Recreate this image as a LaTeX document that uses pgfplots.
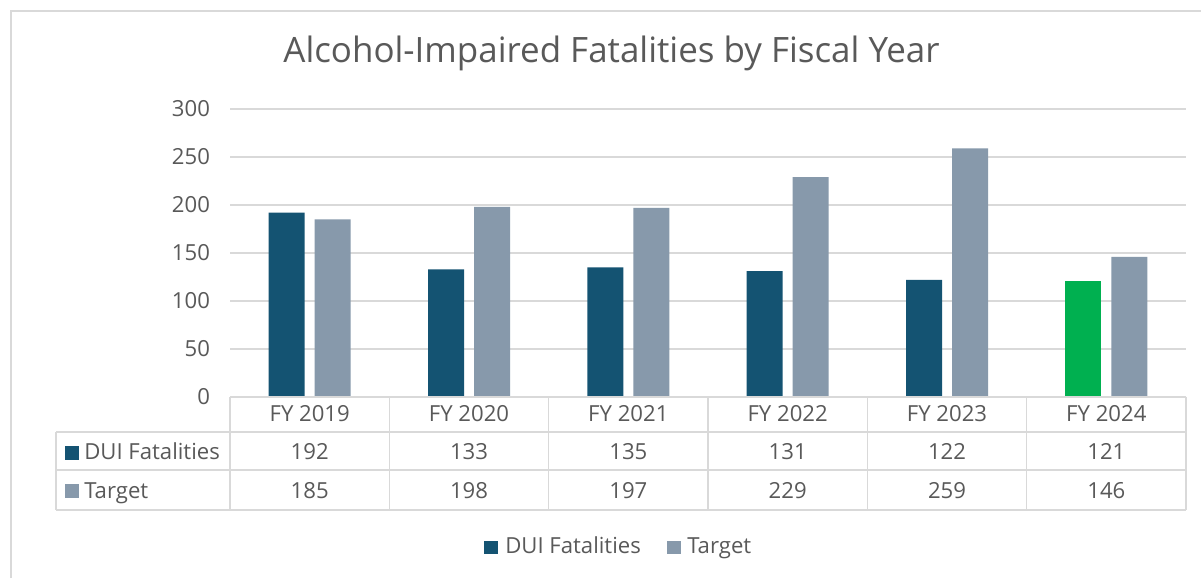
\documentclass[border=0pt]{standalone}
\usepackage{pgfplots}
\pgfplotsset{compat=1.18}
\usepackage{fontspec}
\setmainfont{Open Sans}
\definecolor{duic}{HTML}{145372}
\definecolor{tgtc}{HTML}{8799AB}
\definecolor{grn}{HTML}{00B050}
\definecolor{gridc}{HTML}{D9D9D9}
\definecolor{txt}{HTML}{595959}
\newcommand{\tf}{\fontsize{16.6}{19}\selectfont}
\begin{document}
\begin{tikzpicture}
\path[use as bounding box, fill=white] (0,0) rectangle (900.75pt,433.5pt);
\begin{axis}[at={(172.5pt,135.75pt)}, anchor=south west, scale only axis,
  width=717pt, height=216pt,
  xmin=-0.5, xmax=5.5, ymin=0, ymax=300,
  ytick={0,50,...,300}, xtick=\empty,
  axis line style={draw=none}, major tick length=0pt,
  ymajorgrids, major grid style={draw=gridc, line width=1.1pt},
  yticklabel style={font=\tf, text=txt, xshift=-11.5pt},
  /pgf/number format/assume math mode=true]
\addplot[ybar, bar width=27pt, bar shift=-17.25pt, fill=duic, draw=none]
  coordinates {(0,192) (1,133) (2,135) (3,131) (4,122)};
\addplot[ybar, bar width=27pt, bar shift=17.25pt, fill=tgtc, draw=none]
  coordinates {(0,185) (1,198) (2,197) (3,229) (4,259) (5,146)};
\addplot[ybar, bar width=27pt, bar shift=-17.25pt, fill=grn, draw=none]
  coordinates {(5,121)};
\end{axis}
\begin{scope}[x=0.75pt, y=-0.75pt, yshift=433.5pt]
  % chart border
  \draw[gridc, line width=1.1pt] (11,578) -- (11,11) -- (1201,11);
  % title
  \node[anchor=base, inner sep=0, text=txt, font=\fontsize{26.2}{30}\selectfont] at (611.5,63) {Alcohol-Impaired Fatalities by Fiscal Year};
  % data table lines
  \draw[gridc, line width=1.1pt] (230,397) -- (1186,397);
  \draw[gridc, line width=1.1pt] (56,432) -- (1186,432);
  \draw[gridc, line width=1.1pt] (56,470) -- (1186,470);
  \draw[gridc, line width=1.1pt] (56,510) -- (1186,510);
  \draw[gridc, line width=1.1pt] (56,432) -- (56,510);
  \foreach \xx in {230,389.33,548.67,708,867.33,1026.67,1186}
    \draw[gridc, line width=1.1pt] (\xx,397) -- (\xx,510);
  % header and values
  \foreach \lab/\d/\t [count=\i from 0] in {FY 2019/192/185, FY 2020/133/198, FY 2021/135/197, FY 2022/131/229, FY 2023/122/259, FY 2024/121/146} {
    \node[anchor=base, inner sep=0, text=txt, font=\tf] at ({309.67+159.33*\i},421.5) {\lab};
    \node[anchor=base, inner sep=0, text=txt, font=\tf] at ({309.67+159.33*\i},460) {\d};
    \node[anchor=base, inner sep=0, text=txt, font=\tf] at ({309.67+159.33*\i},498.5) {\t};
  }
  % row labels
  \fill[duic] (65,446) rectangle (79,459.5);
  \node[anchor=base west, inner sep=0, text=txt, font=\tf] at (84,460) {DUI Fatalities};
  \fill[tgtc] (65,484) rectangle (79,497.5);
  \node[anchor=base west, inner sep=0, text=txt, font=\tf] at (84,498.5) {Target};
  % legend
  \fill[duic] (484,540.5) rectangle (497.5,554);
  \node[anchor=base west, inner sep=0, text=txt, font=\tf] at (505,553) {DUI Fatalities};
  \fill[tgtc] (667,540.5) rectangle (680.5,554);
  \node[anchor=base west, inner sep=0, text=txt, font=\tf] at (687,553) {Target};
\end{scope}
\end{tikzpicture}
\end{document}
